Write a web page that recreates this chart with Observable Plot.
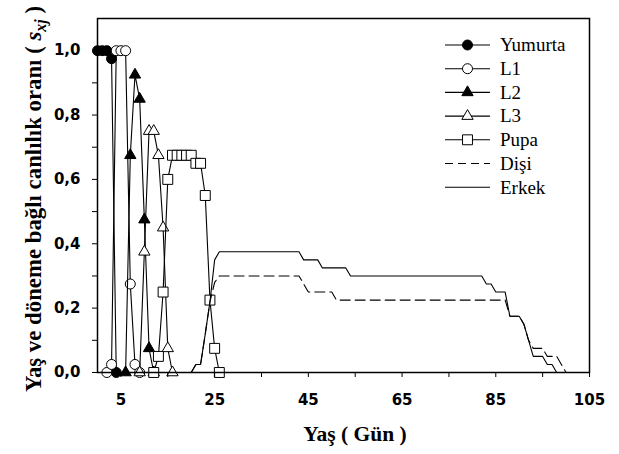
<!DOCTYPE html>
<html>
<head>
<meta charset="utf-8">
<script src="https://cdn.jsdelivr.net/npm/d3@7"></script>
<script src="https://cdn.jsdelivr.net/npm/@observablehq/plot@0.6"></script>
<style>
  body { margin: 0; background: #fff; }
  #wrap { position: relative; width: 619px; height: 454px; overflow: hidden; }
  .ttl { position: absolute; font-family: "Liberation Serif", "Times New Roman", serif; font-weight: bold; color: #000; white-space: nowrap; line-height: 1; }
  #legend { position: absolute; left: 0; top: 0; }
</style>
</head>
<body>
<div id="wrap"></div>
<script>
// ---- data ----
const yumurtaDay = [0, 1, 2, 3, 4];
const yumurtaVal = [1, 1, 1, 0.975, 0];

const l1Day = [2, 3, 4, 5, 6, 7, 8, 9];
const l1Val = [0, 0.025, 1, 1, 1, 0.275, 0.025, 0];

const l2Day = [6, 7, 8, 9, 10, 11, 12];
const l2Val = [0, 0.675, 0.925, 0.85, 0.475, 0.075, 0];

const l3Day = [9, 10, 11, 12, 13, 14, 15, 16];
const l3Val = [0, 0.375, 0.75, 0.75, 0.675, 0.45, 0.075, 0];

const pupaDay = [12, 13, 14, 15, 16, 17, 18, 19, 20, 21, 22, 23, 24, 25, 26];
const pupaVal = [0, 0.05, 0.25, 0.6, 0.675, 0.675, 0.675, 0.675, 0.675, 0.65, 0.65, 0.55, 0.225, 0.075, 0];

const disiDay = [20, 21, 22, 23, 24, 25, 26, 43, 44, 45, 50, 51, 87, 88, 90, 91, 92, 93, 95, 96, 98, 99, 100];
const disiVal = [0, 0.025, 0.025, 0.12, 0.22, 0.28, 0.3, 0.3, 0.275, 0.25, 0.25, 0.225, 0.225, 0.175, 0.175, 0.15, 0.1, 0.075, 0.075, 0.05, 0.05, 0.025, 0];

const erkekDay = [20, 21, 22, 23, 24, 25, 26, 43, 44, 47, 48, 53, 54, 82, 83, 84, 85, 87, 88, 90, 91, 92, 93, 95, 96, 97, 98];
const erkekVal = [0, 0.025, 0.025, 0.12, 0.22, 0.35, 0.375, 0.375, 0.35, 0.35, 0.325, 0.325, 0.3, 0.3, 0.275, 0.275, 0.25, 0.25, 0.175, 0.175, 0.15, 0.1, 0.05, 0.05, 0.025, 0.025, 0];

const xTicks = [5, 25, 45, 65, 85, 105];
const xMinor = [15, 35, 55, 75, 95];
const yTicks = [0, 0.2, 0.4, 0.6, 0.8, 1.0];
const yMinor = [0.1, 0.3, 0.5, 0.7, 0.9];

const seriesNames = ["Yumurta", "L1", "L2", "L3", "Pupa", "Dişi", "Erkek"];
const xTitle = "Yaş ( Gün )";
const yTitleMain = "Yaş ve döneme bağlı canlılık oranı ( ";

// ---- build ----
const zip = (d, v) => d.map((x, i) => ({x, y: v[i]}));
const yum = zip(yumurtaDay, yumurtaVal);
const l1 = zip(l1Day, l1Val);
const l2 = zip(l2Day, l2Val);
const l3 = zip(l3Day, l3Val);
const pupa = zip(pupaDay, pupaVal);
const disi = zip(disiDay, disiVal);
const erkek = zip(erkekDay, erkekVal);

const styles = [
  {symbol: "circle", fill: "black", r: 5},
  {symbol: "circle", fill: "white", r: 5},
  {symbol: "triangle", fill: "black", r: 4.2},
  {symbol: "triangle", fill: "white", r: 4.2},
  {symbol: "square", fill: "white", r: 5.6}
];
const markerSets = [yum, l1, l2, l3, pupa];

const tickFont = {fontSize: 15, fontWeight: "bold", fontFamily: "DejaVu Sans, sans-serif"};
const fmt = d => d.toFixed(1).replace(".", ",");

const marks = [];
markerSets.forEach((data, i) => {
  marks.push(Plot.line(data, {x: "x", y: "y", stroke: "black", strokeWidth: 1.1}));
  marks.push(Plot.dot(data, {x: "x", y: "y", symbol: styles[i].symbol, r: styles[i].r, fill: styles[i].fill, stroke: "black", strokeWidth: 1}));
});
marks.push(Plot.line(disi, {x: "x", y: "y", stroke: "black", strokeWidth: 1.1, strokeDasharray: "10,5"}));
marks.push(Plot.line(erkek, {x: "x", y: "y", stroke: "black", strokeWidth: 1.1}));
marks.push(Plot.frame({stroke: "black", strokeWidth: 1.5}));
marks.push(Plot.axisX(xTicks, {tickSize: 5, tickPadding: 17, tickFormat: d => String(d), label: null, ...tickFont, stroke: "black"}));
marks.push(Plot.axisX(xMinor, {tickSize: 5, tickFormat: () => "", label: null, stroke: "black"}));
marks.push(Plot.axisY(yTicks, {tickSize: 5, tickPadding: 12, tickFormat: fmt, label: null, ...tickFont, stroke: "black"}));
marks.push(Plot.axisY(yMinor, {tickSize: 5, tickFormat: () => "", label: null, stroke: "black"}));

const chart = Plot.plot({
  width: 619,
  height: 454,
  marginLeft: 97,
  marginRight: 30,
  marginTop: 18,
  marginBottom: 82,
  style: {background: "white", color: "black", overflow: "visible"},
  x: {domain: [0, 105]},
  y: {domain: [0, 1.1]},
  marks
});

const wrap = document.getElementById("wrap");
wrap.appendChild(chart);

// axis titles
const xt = document.createElement("div");
xt.className = "ttl";
xt.style.fontSize = "21.5px";
xt.textContent = xTitle;
xt.style.left = "355px";
xt.style.top = "435px";
xt.style.transform = "translate(-50%,-50%)";
wrap.appendChild(xt);

const yt = document.createElement("div");
yt.className = "ttl";
yt.style.fontSize = "22.8px";
yt.innerHTML = yTitleMain + "<i>s<sub style='font-size:0.7em'>xj</sub></i> )";
yt.style.left = "36px";
yt.style.top = "199px";
yt.style.transform = "translate(-50%,-50%) rotate(-90deg)";
wrap.appendChild(yt);

// legend (overlay drawn with d3)
const lg = d3.select(wrap).append("svg").attr("id", "legend").attr("width", 619).attr("height", 454);
const legendItems = seriesNames.map((name, i) => ({name, i}));
const row = lg.selectAll("g").data(legendItems).join("g")
  .attr("transform", d => `translate(0,${45 + d.i * 23.7})`);
row.append("line").attr("x1", 445).attr("x2", 490).attr("y1", 0).attr("y2", 0)
  .attr("stroke", "black").attr("stroke-width", 1.1)
  .attr("stroke-dasharray", d => d.name === "Dişi" ? "8,5" : null);
row.filter(d => d.i < 5).append("path")
  .attr("transform", "translate(467.5,0)")
  .attr("d", d => {
    const s = styles[d.i];
    const t = s.symbol === "circle" ? d3.symbolCircle : s.symbol === "triangle" ? d3.symbolTriangle : d3.symbolSquare;
    return d3.symbol(t, s.r * s.r * Math.PI)();
  })
  .attr("fill", d => styles[d.i].fill).attr("stroke", "black").attr("stroke-width", 1);
row.append("text").attr("x", 500).attr("y", 6.3)
  .attr("font-family", "Liberation Serif, Times New Roman, serif").attr("font-size", 19)
  .text(d => d.name);
</script>
</body>
</html>
